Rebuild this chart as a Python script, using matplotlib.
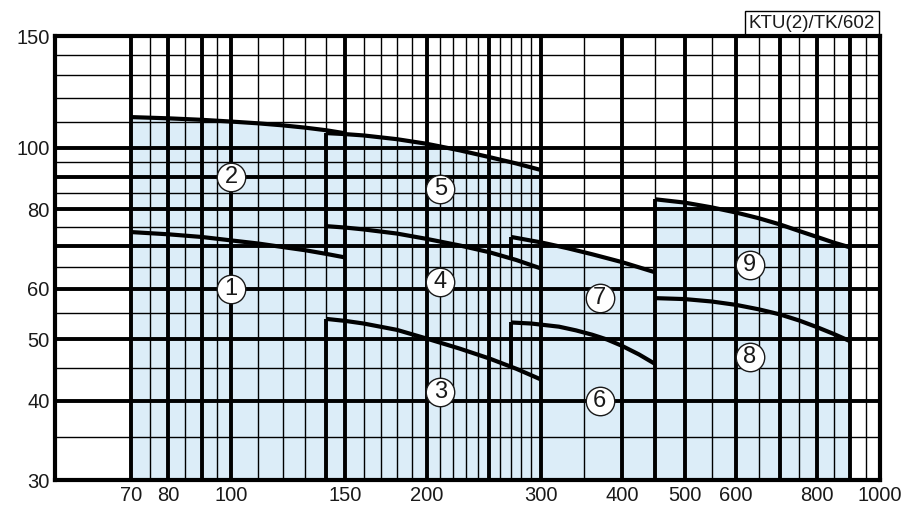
import numpy as np
import matplotlib
matplotlib.use("Agg")
import matplotlib.pyplot as plt

plt.rcParams["font.family"] = ["Liberation Sans", "DejaVu Sans"]

# ------------------------------
# DATA (flow vs head)
# ------------------------------
x1 = [70, 80, 90, 100, 110, 120, 130, 140, 150]
y1 = [73.7, 73.1, 72.4, 71.5, 70.7, 69.8, 69.0, 68.1, 67.2]

x2 = [70, 80, 90, 100, 110, 120, 130, 140, 150]
y2 = [111.8, 111.3, 110.7, 110.0, 109.3, 108.5, 107.6, 106.6, 105.4]

x3 = [140, 150, 160, 180, 200, 225, 250, 275, 300]
y3 = [53.8, 53.4, 52.9, 51.7, 50.1, 48.3, 46.6, 44.9, 43.2]

x4 = [140, 150, 160, 180, 200, 225, 250, 275, 300]
y4 = [75.3, 74.9, 74.4, 73.3, 71.9, 70.2, 68.5, 66.6, 64.6]

x5 = [140, 150, 160, 180, 200, 225, 250, 275, 300]
y5 = [105.5, 105.1, 104.6, 103.2, 101.5, 99.1, 96.7, 94.5, 92.3]

x6 = [270, 290, 320, 340, 360, 380, 400, 425, 450]
y6 = [53.1, 52.9, 52.3, 51.6, 50.8, 49.9, 48.8, 47.3, 45.7]

x7 = [270, 300, 330, 360, 400, 450]
y7 = [72.4, 71.0, 69.5, 68.0, 66.1, 63.7]

x8 = [450, 500, 550, 600, 650, 700, 750, 800, 850, 900]
y8 = [58.0, 57.8, 57.3, 56.6, 55.7, 54.7, 53.5, 52.2, 50.9, 49.6]

x9 = [450, 500, 550, 600, 650, 700, 750, 800, 850, 900]
y9 = [83.0, 82.0, 80.6, 79.1, 77.5, 75.8, 74.0, 72.4, 70.9, 69.7]

curves = [(x1, y1), (x2, y2), (x3, y3), (x4, y4), (x5, y5),
          (x6, y6), (x7, y7), (x8, y8), (x9, y9)]

label_names = ["1", "2", "3", "4", "5", "6", "7", "8", "9"]
label_x = [100, 100, 210, 210, 210, 370, 370, 630, 630]
label_y = [60, 90, 41.3, 61.6, 86, 40, 58, 46.8, 65.4]

x_major = [70, 80, 90, 100, 150, 200, 250, 300, 400, 500, 600, 700, 800, 900, 1000]
x_major_labels = ["70", "80", "", "100", "150", "200", "", "300", "400",
                  "500", "600", "", "800", "", "1000"]
x_minor = [75, 85, 95, 110, 120, 130, 140, 160, 170, 180, 190, 210, 220,
           230, 240, 260, 270, 280, 290, 350, 450, 550, 650, 750, 850, 950]

y_major = [30, 40, 50, 60, 70, 80, 90, 100, 150]
y_major_labels = ["30", "40", "50", "60", "", "80", "", "100", "150"]
y_minor = [35, 45, 55, 65, 75, 85, 95, 110, 120, 130, 140]

xmin, xmax = 53.5, 1000
ymin, ymax = 30, 150

fill_color = "#dcedf8"
ink = "#1a1a1a"

# ------------------------------
# FIGURE
# ------------------------------
fig = plt.figure(figsize=(9.23, 5.14), dpi=100)
ax = fig.add_axes([55 / 923, 34 / 514, 825 / 923, 444 / 514])

ax.set_xscale("log")
ax.set_yscale("log")
ax.set_xlim(xmin, xmax)
ax.set_ylim(ymin, ymax)

# shaded operating ranges (top curves)
for xs, ys in [(x2, y2), (x5, y5), (x7, y7), (x9, y9)]:
    ax.fill_between(xs, ymin, ys, color=fill_color, lw=0, zorder=0)

# grid
ax.set_xticks(x_major, labels=x_major_labels)
ax.set_xticks(x_minor, minor=True)
ax.set_yticks(y_major, labels=y_major_labels)
ax.set_yticks(y_minor, minor=True)
ax.xaxis.set_minor_formatter(matplotlib.ticker.NullFormatter())
ax.yaxis.set_minor_formatter(matplotlib.ticker.NullFormatter())
ax.grid(which="major", color="black", lw=2.8, zorder=1)
ax.grid(which="minor", color="black", lw=1.0, zorder=1)
ax.set_axisbelow(False)
ax.tick_params(which="both", length=0, labelsize=14.5, labelcolor=ink)
ax.tick_params(axis="x", pad=4)
ax.tick_params(axis="y", pad=4)
for s in ax.spines.values():
    s.set_linewidth(3)
    s.set_zorder(3)

# pump curves
for xs, ys in curves:
    ax.plot(xs, ys, color="black", lw=3, solid_capstyle="butt",
            solid_joinstyle="round", zorder=3)

# range edges
ax.vlines(x5[0], np.interp(x5[0], x1, y1), y5[0], color="black", lw=2.8, zorder=3)
ax.vlines(x3[0], ymin, y3[0], color="black", lw=2.8, zorder=3)
ax.vlines(x7[0], np.interp(x7[0], x4, y4), y7[0], color="black", lw=2.8, zorder=3)
ax.vlines(x6[0], np.interp(x6[0], x3, y3), y6[0], color="black", lw=2.8, zorder=3)
ax.vlines(x9[0], ymin, y9[0], color="black", lw=2.8, zorder=3)

# circled pump numbers
ax.plot(label_x, label_y, "o", ms=20.5, mfc="white", mec=ink, mew=1.0,
        ls="none", zorder=5)
for name, lx, ly in zip(label_names, label_x, label_y):
    ax.text(lx, ly, name, ha="center", va="center", fontsize=17,
            color=ink, zorder=6)

# model code box
ax.annotate("KTU(2)/TK/602", xy=(1, 1), xycoords="axes fraction",
            xytext=(-3.4, 3.0), textcoords="offset points",
            ha="right", va="bottom", fontsize=13.5, color=ink,
            bbox=dict(boxstyle="square,pad=0.22", fc="white", ec="black", lw=1))

fig.savefig("out.png", dpi=100)
